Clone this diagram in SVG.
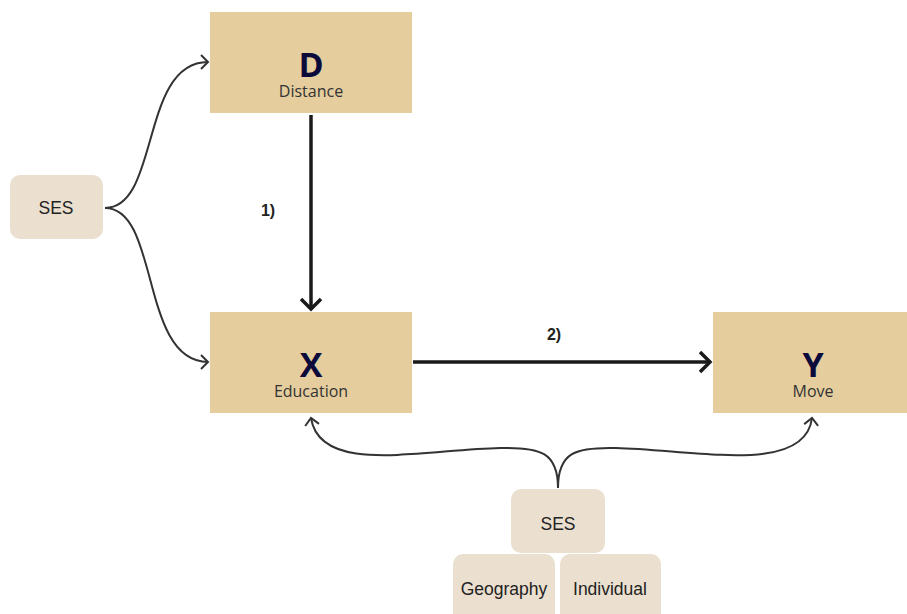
<svg xmlns="http://www.w3.org/2000/svg" width="907" height="614" viewBox="0 0 907 614">
<style>
.main{fill:#E5CD9E}
.ses{fill:#EBE0CF}
.big{font-family:"Open Sans","Noto Sans",sans-serif;font-weight:bold;font-size:34px;fill:#0B0B3B;text-anchor:middle}
.sub{font-family:"Open Sans","Noto Sans",sans-serif;font-size:16px;fill:#333;text-anchor:middle}
.lbl{font-family:"Liberation Sans",Arial,sans-serif;font-size:17.5px;fill:#222;text-anchor:middle}
.num{font-family:"Liberation Sans",Arial,sans-serif;font-size:16px;font-weight:bold;fill:#222;text-anchor:middle}
.thin{fill:none;stroke:#333;stroke-width:2}
.thick{fill:none;stroke:#1a1a1a;stroke-width:3.5}
</style>
<defs>
<marker id="ah" markerUnits="userSpaceOnUse" markerWidth="20" markerHeight="20" refX="10" refY="10" orient="auto" viewBox="0 0 20 20">
<path d="M3,3 L10,10 L3,17" fill="none" stroke="#333" stroke-width="2"/>
</marker>
<marker id="ahb" markerUnits="userSpaceOnUse" markerWidth="30" markerHeight="30" refX="15" refY="15" orient="auto" viewBox="0 0 30 30">
<path d="M5,5 L15,15 L5,25" fill="none" stroke="#1a1a1a" stroke-width="3.5"/>
</marker>
</defs>
<g id="connectors">
<path class="thin" d="M105,208 C160,208 140,62 208,62" marker-end="url(#ah)"/>
<path class="thin" d="M105,208 C160,208 140,362 208,362" marker-end="url(#ah)"/>
<path class="thin" d="M558,488 C558,452 540,447 500,448 C420,450 320,475 311,418" marker-end="url(#ah)"/>
<path class="thin" d="M558,488 C558,452 576,447 616,448 C696,450 805,475 812,418" marker-end="url(#ah)"/>
<path class="thick" d="M311,115 L311,309" marker-end="url(#ahb)"/>
<path class="thick" d="M413,362 L710,362" marker-end="url(#ahb)"/>
<text class="num" x="268" y="216">1)</text>
<text class="num" x="554" y="340">2)</text>
</g>
<g id="D">
<rect class="main" x="210" y="12" width="202" height="101"/>
<text class="big" x="311" y="77">D</text>
<text class="sub" x="311" y="97">Distance</text>
</g>
<g id="X">
<rect class="main" x="210" y="312" width="202" height="101"/>
<text class="big" x="311" y="377">X</text>
<text class="sub" x="311" y="397">Education</text>
</g>
<g id="Y">
<rect class="main" x="713" y="312" width="194" height="101"/>
<text class="big" x="813" y="377">Y</text>
<text class="sub" x="813" y="397">Move</text>
</g>
<g id="SES-left">
<rect class="ses" x="10" y="175" width="93" height="64" rx="10"/>
<text class="lbl" x="56" y="214">SES</text>
</g>
<g id="SES-bottom">
<rect class="ses" x="511" y="489" width="94" height="64" rx="10"/>
<text class="lbl" x="558" y="530">SES</text>
</g>
<g id="Geography">
<rect class="ses" x="453" y="554" width="102" height="70" rx="10"/>
<text class="lbl" x="504" y="595">Geography</text>
</g>
<g id="Individual">
<rect class="ses" x="560" y="554" width="101" height="70" rx="10"/>
<text class="lbl" x="610" y="595">Individual</text>
</g>
</svg>
